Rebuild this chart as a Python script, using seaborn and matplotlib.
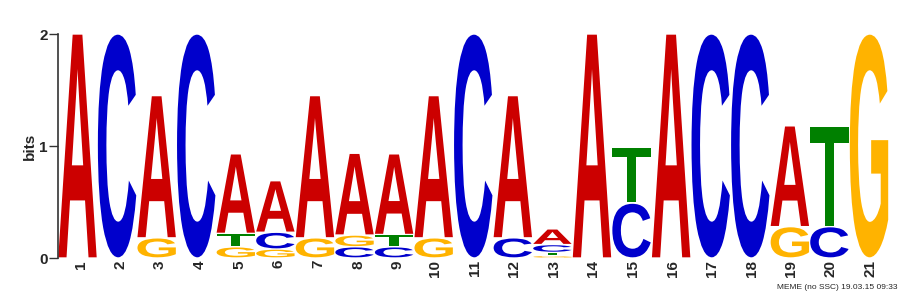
import numpy as np
import matplotlib
matplotlib.use("Agg")
import matplotlib.pyplot as plt
import seaborn as sns
from matplotlib.textpath import TextPath
from matplotlib.patches import PathPatch
from matplotlib.font_manager import FontProperties
from matplotlib.transforms import Affine2D, ScaledTranslation

# ---- data (bits per letter at each motif position) ----
positions = list(range(1, 22))
A_bits = [2.00, 0.00, 1.27, 0.00, 0.71, 0.46, 1.27, 0.73, 0.72, 1.27, 0.00,
          1.27, 0.14, 2.00, 0.00, 2.00, 0.00, 0.00, 0.90, 0.00, 0.00]
C_bits = [0.00, 2.00, 0.00, 2.00, 0.00, 0.15, 0.00, 0.10, 0.10, 0.00, 2.00,
          0.18, 0.07, 0.00, 0.49, 0.00, 2.00, 2.00, 0.00, 0.28, 0.00]
G_bits = [0.00, 0.00, 0.18, 0.00, 0.10, 0.08, 0.18, 0.105, 0.00, 0.18, 0.00,
          0.00, 0.02, 0.00, 0.00, 0.00, 0.00, 0.00, 0.28, 0.00, 2.00]
T_bits = [0.00, 0.00, 0.00, 0.00, 0.12, 0.00, 0.00, 0.00, 0.11, 0.00, 0.00,
          0.00, 0.03, 0.00, 0.50, 0.00, 0.00, 0.00, 0.00, 0.90, 0.00]
letters = ["A", "C", "G", "T"]
letter_colors = {"A": "#CC0000", "C": "#0000CC", "G": "#FFB300", "T": "#008000"}
y_ticks = [0, 1, 2]
footer = "MEME (no SSC) 19.03.15 09:33"

sns.set_style("ticks")
plt.rcParams["font.family"] = ["Liberation Sans", "DejaVu Sans"]

W, H = 904, 294
fig = plt.figure(figsize=(W / 100, H / 100), dpi=100)
ax = fig.add_axes([57.7 / W, 36 / H, 831.1 / W, 224 / H])

fp = FontProperties(family="Liberation Sans", weight="bold")
glyphs = {}
for L in letters:
    p = TextPath((0, 0), L, size=1, prop=fp)
    glyphs[L] = (p, p.get_extents())

xpad = 0.015
ypad = 0.006
table = {"A": A_bits, "C": C_bits, "G": G_bits, "T": T_bits}
for i, pos in enumerate(positions):
    col = [(table[L][i], L) for L in letters if table[L][i] > 0]
    col.sort(key=lambda t: t[0])
    base = 0.0
    for h, L in col:
        path, ext = glyphs[L]
        x0 = pos - 0.5 + xpad
        w = 1 - 2 * xpad
        hh = max(h - 2 * ypad, h * 0.6)
        tr = (Affine2D().translate(-ext.x0, -ext.y0)
              .scale(w / ext.width, hh / ext.height)
              .translate(x0, base + (h - hh) / 2))
        patch = PathPatch(tr.transform_path(path), facecolor=letter_colors[L],
                          edgecolor="none", transform=ax.transData)
        ax.add_patch(patch)
        base += h

ax.set_xlim(0.5, 21.5)
ax.set_ylim(0, 2)
ax.set_yticks(y_ticks)
ax.set_yticklabels([str(t) for t in y_ticks], fontsize=11, fontweight="bold")
ax.set_xticks(positions)
ax.set_xticklabels([str(p) for p in positions], rotation=90, fontsize=11,
                   fontweight="bold", va="top")
ax.tick_params(axis="x", length=0, pad=1.5)
ax.tick_params(axis="y", length=6.5, width=1, pad=0.8, color="#333333")
ax.set_ylabel("bits", fontsize=11, fontweight="bold", labelpad=1.5)
sns.despine(ax=ax, bottom=True)
ax.spines["left"].set_linewidth(1.2)
ax.spines["left"].set_color("#333333")

for lab in ax.get_xticklabels():
    dx = 3.5 if len(lab.get_text()) == 1 else 1.5
    lab.set_transform(lab.get_transform() + ScaledTranslation(dx / 100, 0, fig.dpi_scale_trans))

fig.text(898 / W, 3 / H, footer, fontsize=6, ha="right", va="bottom")

fig.savefig("out.png", dpi=100)
